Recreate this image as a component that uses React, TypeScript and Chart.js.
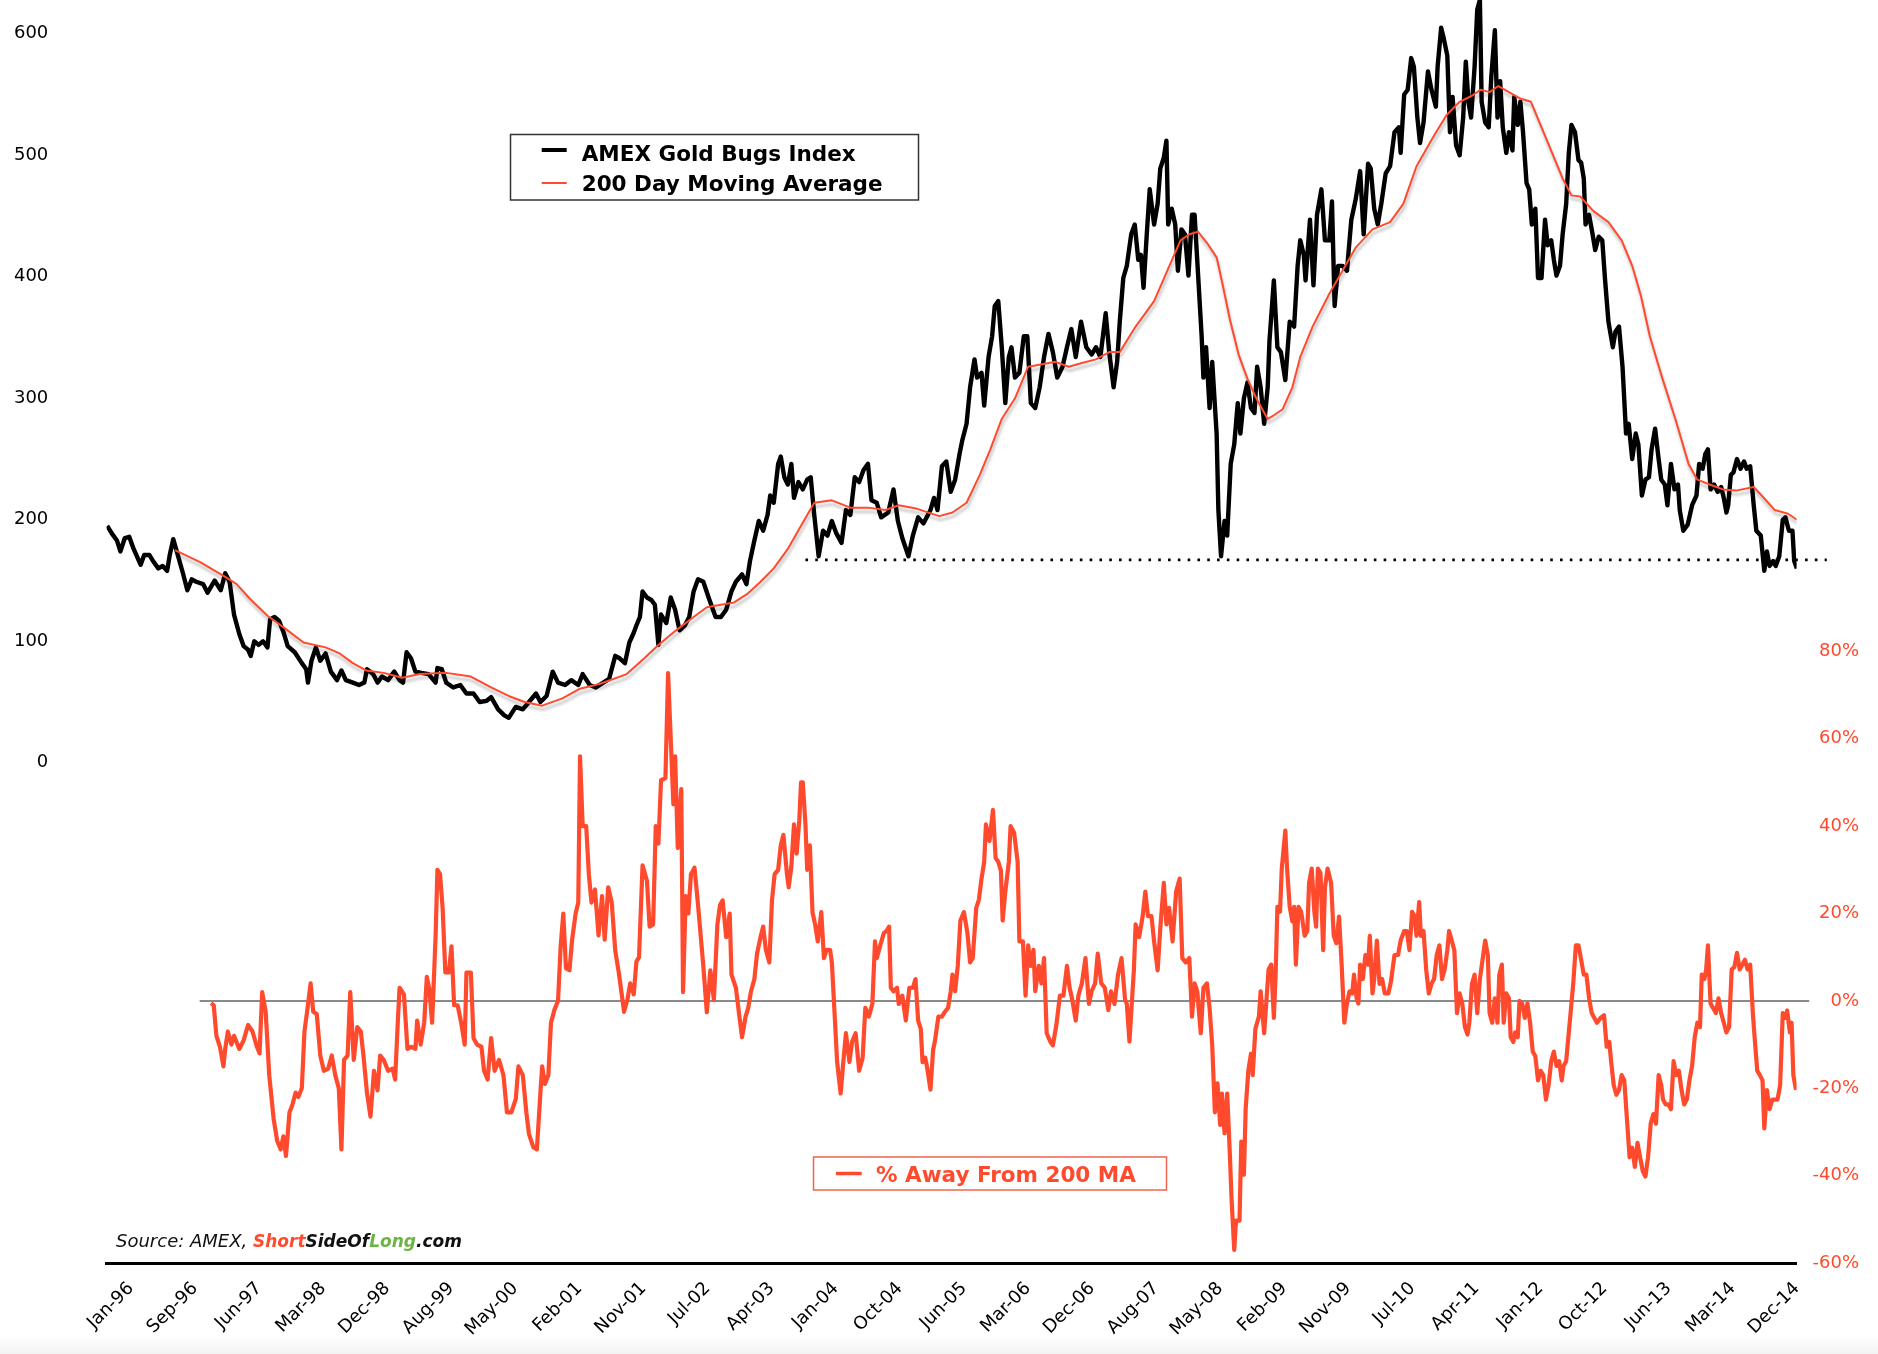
import React, { useEffect, useRef } from 'react';
import { Chart, registerables } from 'chart.js';

Chart.register(...registerables);

const RED = '#FF4A2D';
const GREEN = '#6DB446';

const X_TICKS = [1996.0, 1996.728, 1997.455, 1998.183, 1998.911, 1999.639, 2000.366, 2001.094, 2001.822, 2002.549, 2003.277, 2004.005, 2004.732, 2005.46, 2006.188, 2006.916, 2007.643, 2008.371, 2009.099, 2009.826, 2010.554, 2011.282, 2012.009, 2012.737, 2013.465, 2014.193, 2014.92];
const X_LABELS = ['Jan-96', 'Sep-96', 'Jun-97', 'Mar-98', 'Dec-98', 'Aug-99', 'May-00', 'Feb-01', 'Nov-01', 'Jul-02', 'Apr-03', 'Jan-04', 'Oct-04', 'Jun-05', 'Mar-06', 'Dec-06', 'Aug-07', 'May-08', 'Feb-09', 'Nov-09', 'Jul-10', 'Apr-11', 'Jan-12', 'Oct-12', 'Jun-13', 'Mar-14', 'Dec-14'];
const PRICE_TICKS = [0, 100, 200, 300, 400, 500, 600];
const PCT_TICKS = [-60, -40, -20, 0, 20, 40, 60, 80];

const LEGEND_TOP = ['AMEX Gold Bugs Index', '200 Day Moving Average'];
const LEGEND_BOTTOM = '% Away From 200 MA';

const SUPPORT_LEVEL = 167;
const SUPPORT_SPAN = [2003.66, 2015.26];
const ZERO_SPAN = [1996.78, 2015.06];

// AMEX Gold Bugs Index (weekly close)
const PRICE: [number, number][] = [
  [1995.73, 195], [1995.78, 189], [1995.84, 183], [1995.88, 174], [1995.93, 185], [1995.98, 186], [1996.03, 176], [1996.11, 163], [1996.15, 171], [1996.21, 171], [1996.26, 165], [1996.31, 160], [1996.36, 162], [1996.41, 158], [1996.44, 171], [1996.48, 184], [1996.52, 174], [1996.59, 156], [1996.64, 142], [1996.69, 151], [1996.74, 149], [1996.82, 147], [1996.87, 140], [1996.95, 150], [1997.02, 142], [1997.07, 156], [1997.12, 149], [1997.17, 122], [1997.23, 106], [1997.28, 96], [1997.33, 93], [1997.36, 88], [1997.40, 100], [1997.45, 97], [1997.50, 100], [1997.55, 95], [1997.58, 118], [1997.63, 120], [1997.68, 117], [1997.73, 108], [1997.78, 96], [1997.86, 91], [1997.94, 82], [1997.99, 77], [1998.01, 66], [1998.05, 84], [1998.10, 95], [1998.15, 84], [1998.21, 90], [1998.27, 75], [1998.34, 68], [1998.39, 76], [1998.44, 68], [1998.52, 66], [1998.59, 64], [1998.65, 66], [1998.68, 77], [1998.75, 73], [1998.80, 66], [1998.85, 71], [1998.92, 68], [1998.99, 75], [1999.05, 68], [1999.09, 66], [1999.13, 91], [1999.18, 86], [1999.23, 75], [1999.30, 74], [1999.38, 73], [1999.46, 66], [1999.48, 78], [1999.53, 77], [1999.58, 66], [1999.66, 62], [1999.74, 64], [1999.81, 57], [1999.89, 57], [1999.96, 50], [2000.04, 51], [2000.09, 54], [2000.17, 44], [2000.24, 39], [2000.29, 37], [2000.37, 46], [2000.45, 44], [2000.52, 50], [2000.60, 57], [2000.65, 50], [2000.72, 55], [2000.79, 75], [2000.85, 66], [2000.93, 64], [2001.00, 68], [2001.08, 64], [2001.13, 73], [2001.21, 64], [2001.28, 62],
  [2001.43, 69], [2001.50, 88], [2001.55, 86], [2001.61, 82], [2001.66, 99], [2001.71, 107], [2001.74, 113], [2001.78, 120], [2001.81, 141], [2001.86, 136], [2001.91, 134], [2001.95, 130], [2001.99, 97], [2002.02, 122], [2002.08, 115], [2002.13, 136], [2002.18, 126], [2002.23, 109], [2002.29, 113], [2002.34, 120], [2002.39, 141], [2002.44, 151], [2002.50, 149], [2002.57, 134], [2002.64, 120], [2002.70, 120], [2002.76, 126], [2002.82, 141], [2002.87, 149], [2002.94, 155], [2002.99, 147], [2003.03, 166], [2003.08, 183], [2003.13, 199], [2003.18, 191], [2003.23, 204], [2003.26, 220], [2003.30, 214], [2003.35, 246], [2003.38, 252], [2003.42, 235], [2003.46, 229], [2003.50, 246], [2003.53, 218], [2003.58, 231], [2003.63, 225], [2003.68, 233], [2003.72, 235], [2003.76, 204], [2003.81, 170], [2003.86, 191], [2003.91, 187], [2003.96, 199], [2004.01, 189], [2004.07, 181], [2004.12, 208], [2004.17, 204], [2004.22, 235], [2004.27, 231], [2004.32, 241], [2004.37, 246], [2004.41, 216], [2004.47, 214], [2004.52, 202], [2004.60, 206], [2004.66, 225], [2004.71, 199], [2004.76, 185], [2004.83, 170], [2004.88, 187], [2004.94, 202], [2005.00, 197], [2005.08, 208], [2005.12, 218], [2005.16, 208], [2005.21, 244], [2005.26, 248], [2005.31, 223], [2005.36, 233], [2005.41, 254], [2005.44, 265], [2005.49, 279], [2005.53, 309], [2005.58, 332], [2005.61, 317], [2005.66, 321], [2005.69, 294], [2005.74, 334], [2005.78, 351], [2005.81, 376], [2005.85, 380], [2005.89, 342], [2005.93, 296], [2005.97, 334], [2006.00, 342], [2006.04, 317], [2006.09, 321], [2006.14, 351], [2006.18, 351], [2006.22, 296], [2006.27, 292], [2006.32, 309], [2006.37, 334], [2006.42, 353], [2006.47, 338], [2006.52, 317], [2006.58, 326], [2006.63, 342], [2006.68, 357], [2006.73, 334], [2006.79, 363], [2006.85, 342], [2006.91, 336], [2006.96, 342], [2007.01, 334], [2007.07, 370], [2007.11, 338], [2007.16, 309], [2007.20, 330], [2007.23, 363], [2007.27, 399], [2007.31, 409], [2007.36, 435], [2007.40, 443], [2007.44, 414], [2007.47, 418], [2007.50, 391], [2007.54, 439], [2007.57, 472], [2007.62, 443], [2007.66, 460], [2007.69, 489], [2007.73, 498], [2007.76, 512], [2007.78, 443], [2007.82, 456], [2007.86, 443], [2007.89, 405], [2007.93, 439], [2007.97, 435], [2008.01, 401], [2008.05, 451], [2008.08, 451], [2008.12, 401], [2008.16, 351], [2008.18, 317], [2008.21, 342], [2008.25, 292], [2008.28, 330], [2008.33, 271], [2008.35, 208], [2008.38, 170], [2008.42, 199], [2008.45, 187], [2008.49, 246], [2008.53, 262], [2008.57, 296], [2008.60, 271], [2008.64, 300], [2008.68, 313], [2008.72, 292], [2008.76, 288], [2008.79, 326], [2008.83, 309], [2008.87, 279], [2008.91, 309], [2008.93, 347], [2008.98, 397], [2009.02, 342], [2009.06, 338], [2009.11, 315], [2009.16, 363], [2009.21, 359],
  [2009.25, 409], [2009.28, 430], [2009.32, 418], [2009.34, 397], [2009.39, 447], [2009.43, 393], [2009.47, 451], [2009.52, 472], [2009.56, 430], [2009.61, 430], [2009.64, 462], [2009.67, 376], [2009.71, 409], [2009.76, 409], [2009.81, 405], [2009.86, 447], [2009.91, 464], [2009.96, 487], [2010.00, 435], [2010.05, 493], [2010.08, 489], [2010.12, 456], [2010.16, 443], [2010.20, 460], [2010.25, 485], [2010.30, 491], [2010.35, 519], [2010.40, 523], [2010.42, 502], [2010.46, 550], [2010.50, 554], [2010.54, 580], [2010.57, 573], [2010.61, 531], [2010.64, 510], [2010.68, 527], [2010.73, 569], [2010.77, 554], [2010.82, 540], [2010.84, 573], [2010.88, 605], [2010.91, 596], [2010.95, 582], [2010.98, 519], [2011.01, 548], [2011.05, 508], [2011.09, 500], [2011.13, 531], [2011.16, 577], [2011.19, 544], [2011.22, 531], [2011.26, 573], [2011.29, 620], [2011.32, 628], [2011.34, 544], [2011.38, 527], [2011.42, 523], [2011.45, 565], [2011.49, 603], [2011.52, 531], [2011.55, 561], [2011.58, 523], [2011.62, 502], [2011.65, 519], [2011.69, 504], [2011.71, 548], [2011.75, 525], [2011.78, 544], [2011.81, 519], [2011.85, 477], [2011.88, 472], [2011.91, 443], [2011.95, 456], [2011.98, 399], [2012.02, 399], [2012.06, 447], [2012.09, 426], [2012.13, 430], [2012.16, 414], [2012.19, 401], [2012.23, 409], [2012.26, 435], [2012.30, 460], [2012.33, 502], [2012.36, 525], [2012.40, 519], [2012.44, 496], [2012.47, 494], [2012.50, 481], [2012.52, 443], [2012.56, 451], [2012.60, 435], [2012.63, 422], [2012.67, 433], [2012.71, 430], [2012.74, 399], [2012.78, 363], [2012.83, 342], [2012.86, 355], [2012.90, 359], [2012.94, 326], [2012.98, 271], [2013.01, 279], [2013.05, 250], [2013.09, 271], [2013.12, 262], [2013.16, 220], [2013.20, 233], [2013.24, 235], [2013.27, 258], [2013.31, 275], [2013.35, 250], [2013.38, 233], [2013.42, 229], [2013.45, 212], [2013.49, 246], [2013.53, 225], [2013.57, 229], [2013.59, 208], [2013.63, 191], [2013.68, 196], [2013.73, 212], [2013.78, 220], [2013.81, 246], [2013.85, 242], [2013.88, 254], [2013.91, 258], [2013.94, 225], [2013.98, 229], [2014.02, 223], [2014.06, 227], [2014.09, 218], [2014.12, 206], [2014.14, 212], [2014.17, 237], [2014.20, 239], [2014.24, 250], [2014.28, 242], [2014.32, 248], [2014.35, 242], [2014.39, 244], [2014.43, 212], [2014.46, 191], [2014.51, 187], [2014.55, 158], [2014.58, 174], [2014.61, 162], [2014.65, 166], [2014.68, 162], [2014.72, 170], [2014.76, 200], [2014.79, 202], [2014.83, 191], [2014.87, 191], [2014.89, 166], [2014.92, 160],
];

// 200 day moving average
const MA200: [number, number][] = [
  [1996.50, 175], [1996.79, 165], [1997.07, 153], [1997.20, 147], [1997.35, 135], [1997.55, 121], [1997.76, 110], [1997.96, 99], [1998.21, 95], [1998.37, 90], [1998.52, 82], [1998.67, 76], [1998.87, 74], [1999.08, 70], [1999.28, 73], [1999.58, 74], [1999.86, 71], [2000.09, 62], [2000.29, 55], [2000.47, 50], [2000.67, 47], [2000.90, 53], [2001.10, 61], [2001.33, 65],
  [2001.63, 73], [2001.83, 86], [2001.99, 97], [2002.19, 109], [2002.39, 120], [2002.54, 128], [2002.70, 130], [2002.85, 132], [2003.00, 139], [2003.15, 149], [2003.30, 160], [2003.46, 176], [2003.61, 195], [2003.76, 214], [2003.96, 216], [2004.17, 210], [2004.37, 210], [2004.57, 208], [2004.72, 212], [2004.93, 209], [2005.18, 203], [2005.33, 206], [2005.49, 214], [2005.64, 237], [2005.76, 258], [2005.89, 283], [2006.04, 300], [2006.19, 326], [2006.35, 328], [2006.50, 330], [2006.65, 326], [2006.80, 329], [2006.96, 332], [2007.11, 338], [2007.23, 338], [2007.41, 359], [2007.62, 380], [2007.77, 405], [2007.92, 430], [2008.02, 435], [2008.12, 437], [2008.22, 428], [2008.33, 416], [2008.40, 393], [2008.48, 365], [2008.58, 336], [2008.68, 316], [2008.78, 300], [2008.91, 283], [2008.98, 286], [2009.08, 291], [2009.19, 309], [2009.28, 334],
  [2009.42, 359], [2009.61, 386], [2009.76, 405], [2009.91, 424], [2010.10, 439], [2010.30, 445], [2010.45, 460], [2010.60, 491], [2010.79, 515], [2010.94, 533], [2011.09, 544], [2011.23, 549], [2011.33, 554], [2011.43, 552], [2011.53, 557], [2011.65, 552], [2011.77, 547], [2011.90, 544], [2012.02, 523], [2012.14, 502], [2012.26, 481], [2012.36, 467], [2012.46, 466], [2012.61, 454], [2012.78, 445], [2012.93, 430], [2013.05, 409], [2013.15, 384], [2013.25, 351], [2013.39, 317], [2013.54, 283], [2013.69, 246], [2013.79, 233], [2013.93, 229], [2014.08, 225], [2014.23, 224], [2014.43, 227], [2014.52, 220], [2014.67, 208], [2014.82, 205], [2014.92, 200],
];

// % away from the 200 day moving average
const PCT_AWAY: [number, number][] = [
  [1996.91, -0.5], [1996.94, -1], [1996.97, -8], [1997.01, -10.5], [1997.05, -15], [1997.07, -11], [1997.10, -7], [1997.14, -10], [1997.17, -8], [1997.23, -11], [1997.28, -9], [1997.33, -5.5], [1997.38, -7], [1997.43, -10.5], [1997.46, -12], [1997.49, 2], [1997.53, -2.5], [1997.57, -17], [1997.62, -27], [1997.66, -32], [1997.70, -34], [1997.73, -31], [1997.76, -35.5], [1997.80, -25.5], [1997.83, -24], [1997.87, -21], [1997.90, -22], [1997.94, -20], [1997.97, -7], [1998.00, -2.5], [1998.04, 4], [1998.07, -2.5], [1998.11, -3], [1998.15, -12.5], [1998.19, -16], [1998.24, -15.5], [1998.28, -12.5], [1998.32, -17], [1998.36, -20], [1998.39, -34], [1998.42, -13.5], [1998.46, -12.5], [1998.49, 2], [1998.53, -13.5], [1998.57, -6], [1998.61, -7], [1998.64, -12.5], [1998.68, -21], [1998.72, -26.5], [1998.76, -16], [1998.80, -20.5], [1998.83, -12.5], [1998.87, -13.5], [1998.92, -16], [1998.97, -15.5], [1999.00, -18], [1999.03, -5], [1999.05, 3], [1999.10, 1.5], [1999.14, -11], [1999.18, -10.5], [1999.23, -11], [1999.25, -4.5], [1999.29, -10], [1999.33, -5], [1999.36, 5.5], [1999.39, 2.5], [1999.42, -5], [1999.46, 15], [1999.48, 30], [1999.51, 29], [1999.54, 21], [1999.57, 6.5], [1999.61, 6.5], [1999.64, 12.5], [1999.67, -1], [1999.71, -1], [1999.75, -5], [1999.79, -10], [1999.81, 6.5], [1999.86, 6.5], [1999.89, -8.5], [1999.93, -10], [1999.98, -10.5], [2000.01, -16], [2000.05, -18], [2000.09, -8.5], [2000.13, -16], [2000.18, -13.5], [2000.23, -17], [2000.27, -25.5], [2000.32, -25.5], [2000.37, -22.5], [2000.40, -15], [2000.45, -17], [2000.49, -25.5], [2000.52, -30.5], [2000.57, -33.5], [2000.61, -34], [2000.65, -21], [2000.67, -15], [2000.70, -19], [2000.74, -17], [2000.77, -5], [2000.81, -2], [2000.85, 0], [2000.88, 12.5], [2000.91, 20], [2000.94, 7.5], [2000.98, 7], [2001.01, 14], [2001.05, 20], [2001.08, 22.5], [2001.10, 56], [2001.13, 40], [2001.17, 40], [2001.20, 29], [2001.23, 22.5], [2001.27, 25.5], [2001.31, 15], [2001.35, 24], [2001.38, 14], [2001.42, 26], [2001.46, 22.5], [2001.50, 11.5], [2001.54, 6.5], [2001.57, 2], [2001.60, -2.5], [2001.64, 0.5], [2001.67, 4], [2001.71, 1.5], [2001.74, 9], [2001.77, 10], [2001.81, 31], [2001.86, 27.5], [2001.89, 17], [2001.93, 17.5], [2001.96, 40], [2001.99, 36], [2002.02, 50.5], [2002.07, 51], [2002.10, 75], [2002.13, 60], [2002.16, 45], [2002.18, 56], [2002.21, 35], [2002.25, 48.5], [2002.27, 2], [2002.30, 24], [2002.33, 20], [2002.36, 29], [2002.40, 30.5], [2002.44, 22],
  [2002.50, 8], [2002.54, -2.6], [2002.58, 7], [2002.62, 0.3], [2002.66, 17.5], [2002.69, 22], [2002.72, 23], [2002.76, 14.6], [2002.80, 20], [2002.82, 6], [2002.87, 3], [2002.91, -3.6], [2002.94, -8.3], [2002.98, -3.6], [2003.01, -1.6], [2003.04, 2], [2003.08, 5], [2003.11, 10.8], [2003.15, 14.6], [2003.18, 17], [2003.21, 11.7], [2003.25, 8.8], [2003.28, 23], [2003.31, 29], [2003.35, 30], [2003.38, 35.6], [2003.41, 38], [2003.45, 29], [2003.47, 26], [2003.50, 30.8], [2003.53, 40.4], [2003.56, 33.7], [2003.59, 41.3], [2003.61, 50], [2003.63, 50], [2003.66, 40.4], [2003.68, 30], [2003.71, 35.6], [2003.74, 20.3], [2003.77, 17.5], [2003.80, 13.6], [2003.84, 20.3], [2003.87, 9.8], [2003.90, 11.7], [2003.94, 11.7], [2003.96, 8.8], [2003.99, -2.6], [2004.02, -14], [2004.06, -21.2], [2004.09, -14], [2004.12, -7.4], [2004.16, -14], [2004.19, -9.3], [2004.23, -7.4], [2004.27, -16], [2004.31, -13], [2004.34, -1.6], [2004.38, -3.6], [2004.42, -0.7], [2004.45, 13.6], [2004.47, 9.8], [2004.51, 12.7], [2004.55, 15.5], [2004.58, 16], [2004.61, 17], [2004.63, 3], [2004.66, 2.2], [2004.70, 3], [2004.72, -0.7], [2004.76, 1.2], [2004.80, -4.5], [2004.84, 3], [2004.88, 3], [2004.91, 5], [2004.94, -4.5], [2004.97, -6.4], [2004.99, -14], [2005.02, -13], [2005.04, -15], [2005.08, -20.3], [2005.11, -11.2], [2005.13, -9.3], [2005.17, -3.6], [2005.21, -3.6], [2005.24, -2.6], [2005.28, -1.6], [2005.31, 2.2], [2005.33, 6], [2005.36, 2.2], [2005.39, 8], [2005.42, 18.4], [2005.46, 20.3], [2005.50, 15.5], [2005.53, 8.8], [2005.56, 9.8], [2005.60, 21.3], [2005.63, 23.2], [2005.66, 28], [2005.69, 31.8], [2005.71, 40.4], [2005.75, 36.6], [2005.79, 43.7], [2005.82, 32.7], [2005.85, 31.8], [2005.88, 29.8], [2005.90, 18.4], [2005.93, 25], [2005.97, 31.8], [2005.99, 40], [2006.03, 38.5], [2006.07, 31.8], [2006.09, 13.6], [2006.13, 13.6], [2006.16, 1.2], [2006.19, 12.7], [2006.22, 8], [2006.25, 11.7], [2006.27, 2.2], [2006.31, 8], [2006.34, 4], [2006.37, 9.8], [2006.40, -7.4], [2006.44, -9.3], [2006.47, -10.2], [2006.51, -5.5], [2006.55, 1.2], [2006.59, 1.2], [2006.63, 8], [2006.66, 3], [2006.69, 0.3], [2006.73, -4.5], [2006.76, 1.2], [2006.80, 4], [2006.84, 9.8], [2006.88, -0.7], [2006.91, 2.2], [2006.95, 4], [2006.98, 10.8], [2007.02, 4], [2007.06, 3], [2007.10, -2.1], [2007.13, 2.2], [2007.17, -0.7], [2007.21, 6], [2007.25, 9.8], [2007.29, 0.3], [2007.31, -0.7], [2007.34, -9.3], [2007.36, -2.6], [2007.39, 7], [2007.41, 17.5], [2007.45, 14.6], [2007.49, 19.4], [2007.52, 25], [2007.55, 19.4], [2007.59, 19.4], [2007.62, 13.6], [2007.66, 7], [2007.69, 16.5], [2007.73, 27], [2007.76, 17.5], [2007.79, 21.3], [2007.83, 13.6], [2007.87, 25], [2007.91, 28], [2007.94, 9.8], [2007.98, 8.8], [2008.02, 9.8], [2008.05, -3.6], [2008.08, 4], [2008.11, 2.2], [2008.15, -7.4], [2008.18, 3], [2008.22, 4], [2008.25, -1.6], [2008.28, -10.2], [2008.31, -25.5], [2008.34, -18.9], [2008.37, -28.4], [2008.39, -21.2], [2008.42, -30.3], [2008.45, -21.2], [2008.48, -35], [2008.50, -45.5], [2008.53, -57], [2008.55, -50.3], [2008.59, -50.3], [2008.61, -32.2], [2008.64, -39.8], [2008.66, -24.6], [2008.69, -16], [2008.72, -12.1], [2008.74, -17], [2008.77, -6.4], [2008.81, -3.6], [2008.83, 2.2], [2008.87, -7.4],
  [2008.92, 7.2], [2008.95, 8.3], [2008.98, -3.9], [2009.00, 6], [2009.02, 21.5], [2009.05, 20.4], [2009.07, 30.3], [2009.11, 39], [2009.13, 30.3], [2009.16, 21.5], [2009.19, 18.2], [2009.21, 21.5], [2009.23, 8.3], [2009.26, 21.5], [2009.29, 20.4], [2009.33, 14.9], [2009.36, 16], [2009.38, 27], [2009.41, 30.3], [2009.44, 20.4], [2009.46, 17], [2009.48, 30.3], [2009.51, 29.2], [2009.54, 11.6], [2009.56, 25.9], [2009.59, 30.3], [2009.63, 27], [2009.66, 14.9], [2009.69, 13.2], [2009.72, 19.3], [2009.75, 8.3], [2009.78, -5], [2009.81, -0.6], [2009.84, 2.2], [2009.87, 1.7], [2009.89, 6], [2009.92, 0.6], [2009.94, -0.6], [2009.96, 8.3], [2009.99, 5], [2010.02, 10.5], [2010.05, 8.3], [2010.07, 14.9], [2010.10, 1.7], [2010.12, 5], [2010.15, 13.8], [2010.18, 3.9], [2010.21, 5], [2010.24, 1.7], [2010.28, 1.7], [2010.31, 4.4], [2010.35, 10.5], [2010.39, 10.5], [2010.42, 13.8], [2010.46, 16], [2010.49, 16], [2010.52, 11.6], [2010.55, 20.4], [2010.58, 19.3], [2010.60, 14.9], [2010.63, 22.6], [2010.65, 14.9], [2010.68, 16], [2010.71, 7.2], [2010.74, 1.7], [2010.77, 3.9], [2010.80, 5], [2010.83, 10.5], [2010.86, 12.7], [2010.89, 5], [2010.92, 7.2], [2010.95, 11.6], [2010.97, 16], [2011.00, 13.8], [2011.03, 11.6], [2011.06, -2.8], [2011.09, 1.7], [2011.12, -0.6], [2011.15, -6], [2011.18, -7.7], [2011.20, -5], [2011.23, 3.9], [2011.26, 6], [2011.29, -2.8], [2011.32, 5], [2011.35, 9.4], [2011.38, 13.8], [2011.41, 10.5], [2011.43, -2.8], [2011.46, -5], [2011.49, 0.6], [2011.52, -5], [2011.54, 6], [2011.57, 8.3], [2011.59, -5], [2011.62, 1.7], [2011.65, 0.6], [2011.67, -8.3], [2011.70, -9.4], [2011.72, -7.2], [2011.75, -8.3], [2011.77, 0], [2011.80, -0.6], [2011.83, -3.9], [2011.86, -0.6], [2011.89, -5], [2011.92, -11.6], [2011.95, -12.7], [2011.98, -18.2], [2012.01, -16], [2012.04, -17], [2012.07, -22.6], [2012.10, -19.3], [2012.13, -13.8], [2012.16, -11.6], [2012.19, -14.9], [2012.22, -13.8], [2012.25, -18.2], [2012.27, -14.9], [2012.30, -13.8], [2012.32, -9.4], [2012.35, -2.8], [2012.38, 3.9], [2012.41, 12.7], [2012.44, 12.7], [2012.47, 9.4], [2012.50, 6], [2012.53, 6], [2012.56, 0.6], [2012.59, -2.8], [2012.62, -3.9], [2012.65, -5], [2012.69, -3.9], [2012.73, -3.3], [2012.76, -10.5], [2012.79, -9.4], [2012.81, -13.8], [2012.84, -19.3], [2012.87, -21.5], [2012.90, -20.4], [2012.93, -17], [2012.96, -18.2], [2012.99, -27], [2013.02, -35.8], [2013.05, -33.6], [2013.08, -38], [2013.11, -32.5], [2013.14, -35.8], [2013.17, -39], [2013.20, -40.2], [2013.23, -35.8], [2013.26, -28.1], [2013.29, -25.9], [2013.32, -28.1], [2013.35, -17], [2013.38, -19.3], [2013.40, -22.6], [2013.43, -23.7], [2013.46, -23.7], [2013.49, -24.8], [2013.52, -13.8], [2013.55, -17], [2013.58, -16], [2013.61, -20.4], [2013.64, -23.7], [2013.67, -22.6], [2013.70, -18.2], [2013.73, -14.9], [2013.76, -8.3], [2013.79, -5], [2013.82, -6], [2013.84, 6], [2013.87, 5], [2013.89, 7.2], [2013.91, 12.7], [2013.94, -0.6], [2013.97, -1.7], [2014.00, -2.8], [2014.03, 0.6], [2014.06, -2.8], [2014.09, -5], [2014.12, -7.2], [2014.15, -6], [2014.18, 7.2], [2014.21, 7.7], [2014.24, 11], [2014.27, 7.2], [2014.30, 8.3], [2014.33, 9.4], [2014.36, 7.2], [2014.39, 8.3], [2014.42, -2.8], [2014.44, -8.3], [2014.47, -16], [2014.50, -17], [2014.53, -18.2], [2014.55, -29.2], [2014.58, -20.4], [2014.61, -24.8], [2014.64, -22.6], [2014.67, -22.6], [2014.70, -22.6], [2014.73, -19.3], [2014.76, -2.8], [2014.79, -3.9], [2014.81, -2.2], [2014.84, -7.2], [2014.86, -5], [2014.88, -17], [2014.91, -20.4],
];

const SOURCE_PARTS: [string, string, string][] = [
  ['Source: AMEX, ', 'italic 18px "DejaVu Sans"', '#111111'],
  ['Short', 'italic bold 17px "DejaVu Sans"', RED],
  ['SideOf', 'italic bold 17px "DejaVu Sans"', '#111111'],
  ['Long', 'italic bold 17px "DejaVu Sans"', GREEN],
  ['.com', 'italic bold 17px "DejaVu Sans"', '#111111'],
];

const shadowPlugin = {
  id: 'maShadow',
  beforeDatasetDraw(chart: any, args: any) {
    if (args.index === 0) {
      const c = chart.ctx;
      c.save();
      c.shadowColor = 'rgba(0,0,0,0.28)';
      c.shadowBlur = 3;
      c.shadowOffsetX = 1;
      c.shadowOffsetY = 4;
    }
  },
  afterDatasetDraw(chart: any, args: any) {
    if (args.index === 0) chart.ctx.restore();
  },
};

const overlayPlugin = {
  id: 'overlay',
  afterDraw(chart: any) {
    const c = chart.ctx;
    c.save();
    const seg = (x1: number, y1: number, x2: number, y2: number, color: string, w: number) => {
      c.beginPath();
      c.strokeStyle = color;
      c.lineWidth = w;
      c.moveTo(x1, y1);
      c.lineTo(x2, y2);
      c.stroke();
    };
    // top legend
    c.strokeStyle = '#333333';
    c.lineWidth = 1.5;
    c.strokeRect(510.5, 134.5, 408, 65.5);
    seg(541.7, 150, 566.7, 150, '#000000', 4);
    seg(541.7, 183, 566.7, 183, RED, 2);
    c.font = 'bold 21.5px "DejaVu Sans"';
    c.fillStyle = '#000000';
    c.textAlign = 'left';
    c.textBaseline = 'alphabetic';
    c.fillText(LEGEND_TOP[0], 581.7, 161);
    c.fillText(LEGEND_TOP[1], 581.7, 191);
    // bottom legend
    c.strokeStyle = '#F2644E';
    c.lineWidth = 1.5;
    c.strokeRect(813.5, 1157, 353, 33);
    seg(836, 1173.5, 861.7, 1173.5, RED, 3.5);
    c.fillStyle = RED;
    c.fillText(LEGEND_BOTTOM, 876, 1182);
    // source line
    let x = 116;
    for (const [t, f, col] of SOURCE_PARTS) {
      c.font = f;
      c.fillStyle = col;
      c.fillText(t, x, 1247);
      x += c.measureText(t).width;
    }
    c.restore();
  },
};

const fitAxis = (w?: number, h?: number) => (s: any) => {
  if (w !== undefined) s.width = w;
  if (h !== undefined) s.height = h;
  s.paddingTop = 0;
  s.paddingBottom = 0;
  s.paddingLeft = 0;
  s.paddingRight = 0;
};

const TICK_FONT = { family: 'DejaVu Sans', size: 18 };

export default function App() {
  const ref = useRef<HTMLCanvasElement>(null);

  useEffect(() => {
    const canvas = ref.current;
    if (!canvas) return;
    const pts = (a: [number, number][]) => a.map(([x, y]) => ({ x, y }));
    const chart = new Chart(canvas, {
      type: 'line',
      data: {
        datasets: [
          { label: LEGEND_TOP[1], data: pts(MA200), yAxisID: 'y', borderColor: RED, borderWidth: 2, order: 0 },
          { label: LEGEND_TOP[0], data: pts(PRICE), yAxisID: 'y', borderColor: '#000000', borderWidth: 4.4, order: 1 },
          { label: LEGEND_BOTTOM, data: pts(PCT_AWAY), yAxisID: 'y2', borderColor: RED, borderWidth: 4.2, order: 2 },
          { label: 'zero', data: ZERO_SPAN.map((x) => ({ x, y: 0 })), yAxisID: 'y2', borderColor: '#8a8a8a', borderWidth: 2, order: 3, clip: false },
          { label: 'support', data: SUPPORT_SPAN.map((x) => ({ x, y: SUPPORT_LEVEL })), yAxisID: 'y', borderColor: '#000000', borderWidth: 2.6, borderDash: [2.6, 7.2], borderCapStyle: 'butt', order: 4, clip: false },
        ],
      } as any,
      options: {
        responsive: false,
        animation: false,
        devicePixelRatio: 1,
        events: [],
        layout: { padding: { left: 0, top: 0, bottom: 0, right: 19 } },
        elements: {
          point: { radius: 0 },
          line: { tension: 0, borderJoinStyle: 'round', fill: false },
        },
        plugins: { legend: { display: false }, tooltip: { enabled: false } },
        scales: {
          x: {
            type: 'linear',
            min: 1995.723,
            max: 2014.917,
            grid: { display: false, drawTicks: false },
            border: { display: true, color: '#000000', width: 3 },
            afterBuildTicks: (s: any) => { s.ticks = X_TICKS.map((v) => ({ value: v })); },
            afterFit: fitAxis(undefined, 91),
            ticks: {
              autoSkip: false,
              maxRotation: 45,
              minRotation: 45,
              padding: 15,
              color: '#000000',
              font: TICK_FONT,
              callback: (_v: any, i: number) => X_LABELS[i],
            },
          },
          y: {
            type: 'linear',
            position: 'left',
            min: -411.7,
            max: 627.8,
            grid: { display: false, drawTicks: false },
            border: { display: false },
            afterBuildTicks: (s: any) => { s.ticks = PRICE_TICKS.map((v) => ({ value: v })); },
            afterFit: fitAxis(106.6, undefined),
            ticks: { autoSkip: false, padding: 58.3, color: '#000000', font: TICK_FONT, callback: (v: any) => String(v) },
          },
          y2: {
            type: 'linear',
            position: 'right',
            min: -60,
            max: 229.1,
            grid: { display: false, drawTicks: false },
            border: { display: false },
            afterBuildTicks: (s: any) => { s.ticks = PCT_TICKS.map((v) => ({ value: v })); },
            afterFit: fitAxis(62.4, undefined),
            ticks: { autoSkip: false, padding: 12, crossAlign: 'far', color: RED, font: TICK_FONT, callback: (v: any) => v + '%' },
          },
        },
      } as any,
      plugins: [shadowPlugin, overlayPlugin],
    });
    return () => chart.destroy();
  }, []);

  return (
    <div
      style={{
        position: 'absolute',
        left: 0,
        top: 0,
        width: 1878,
        height: 1354,
        background: 'linear-gradient(to bottom, #ffffff 0px, #ffffff 1336px, #f3f3f3 1354px)',
      }}
    >
      <canvas ref={ref} width={1878} height={1354} style={{ display: 'block', width: 1878, height: 1354 }} />
    </div>
  );
}
